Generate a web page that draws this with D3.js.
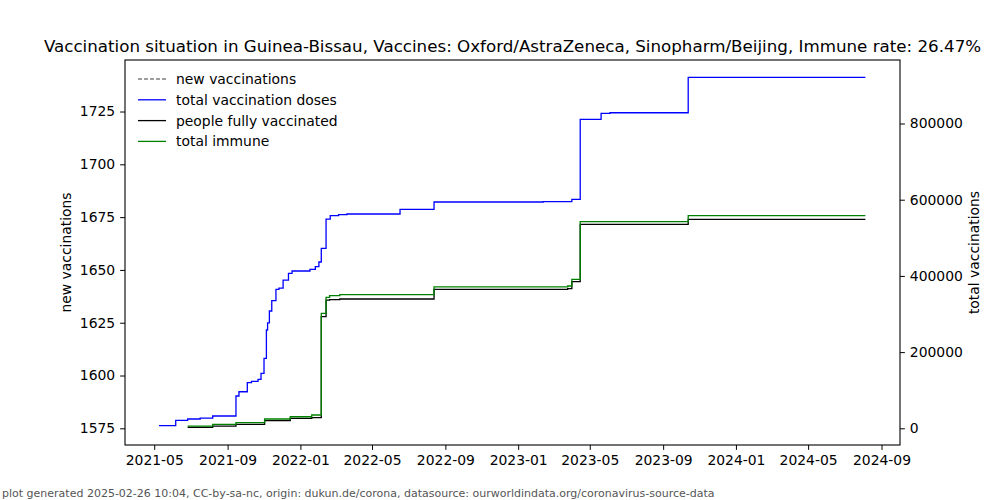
<!DOCTYPE html>
<html><head><meta charset="utf-8">
<script src="https://cdn.jsdelivr.net/npm/d3@7"></script>
<style>body{margin:0;background:#fff}svg{display:block;font-family:"DejaVu Sans",sans-serif}</style>
</head><body><svg id="c" width="1000" height="500"></svg>
<script>
// ---- data ----
const titleText = "Vaccination situation in Guinea-Bissau, Vaccines: Oxford/AstraZeneca, Sinopharm/Beijing, Immune rate: 26.47%";
const footerText = "plot generated 2025-02-26 10:04, CC-by-sa-nc, origin: dukun.de/corona, datasource: ourworldindata.org/coronavirus-source-data";
const seriesNames = ["new vaccinations", "total vaccination doses", "people fully vaccinated", "total immune"];
const xTickLabels = ["2021-05","2021-09","2022-01","2022-05","2022-09","2023-01","2023-05","2023-09","2024-01","2024-05","2024-09"];
const leftTicks = [1575,1600,1625,1650,1675,1700,1725];
const rightTicks = [0,200000,400000,600000,800000];
const xDomain = ["2021-03-13","2024-10-02"];
const leftDomain = [1567.1, 1749.4];
const rightDomain = [-43800, 966700];
const newVaccinations = []; // not visible in the reference
const totalDoses = [
 ["2021-05-09",6800],["2021-06-06",21000],["2021-06-26",24400],["2021-07-17",27000],["2021-08-07",32300],
 ["2021-09-15",84800],["2021-09-20",96000],["2021-10-04",119700],["2021-10-11",123400],["2021-10-22",128600],
 ["2021-10-27",144400],["2021-11-01",183700],["2021-11-05",258000],["2021-11-07",277000],["2021-11-10",307900],
 ["2021-11-14",335000],["2021-11-21",364800],["2021-11-26",368200],["2021-12-03",389200],["2021-12-12",406800],
 ["2021-12-18",412900],["2022-01-17",417300],["2022-01-26",424200],["2022-02-01",436500],["2022-02-05",472400],
 ["2022-02-13",549300],["2022-02-20",558000],["2022-03-06",560600],["2022-03-20",562500],["2022-06-17",574800],
 ["2022-08-13",594000],["2023-02-12",594800],["2023-04-01",601000],["2023-04-15",811000],["2023-05-20",826800],
 ["2023-06-04",828300],["2023-10-13",921300],["2024-08-05",921300]
];
const fullyVaccinated = [
 ["2021-06-26",2600],["2021-08-07",6000],["2021-09-15",10500],["2021-11-02",20000],["2021-12-15",26200],
 ["2022-01-20",27800],["2022-02-05",292900],["2022-02-13",336700],["2022-02-19",338000],["2022-03-08",339400],
 ["2022-08-13",364500],["2023-03-25",366400],["2023-04-01",384800],["2023-04-15",535400],["2023-10-13",548600],
 ["2024-08-05",548600]
];
const totalImmune = [
 ["2021-06-26",6000],["2021-08-07",10500],["2021-09-15",14700],["2021-11-02",24400],["2021-12-15",30400],
 ["2022-01-20",34900],["2022-02-05",301800],["2022-02-13",343800],["2022-02-19",348000],["2022-03-08",350700],
 ["2022-08-13",371000],["2023-03-25",373500],["2023-04-01",391000],["2023-04-15",542300],["2023-10-13",558000],
 ["2024-08-05",558000]
];
const colors = ["#808080","#0000ff","#000000","#008000"];

// ---- layout ----
const svg = d3.select("#c");
const L = 125, R = 900, T = 60, B = 445;
const parse = d3.utcParse("%Y-%m-%d");
const x = d3.scaleUtc().domain(xDomain.map(parse)).range([L, R]);
const yL = d3.scaleLinear().domain(leftDomain).range([B, T]);
const yR = d3.scaleLinear().domain(rightDomain).range([B, T]);

const fs = "13.9px";
// title
svg.append("text").attr("x", (L+R)/2).attr("y", 52).attr("text-anchor","middle")
  .style("font-size","16.7px").text(titleText);

// lines
const line = d3.line().x(d => x(parse(d[0]))).y(d => yR(d[1])).curve(d3.curveStepAfter);
const lineL = d3.line().x(d => x(parse(d[0]))).y(d => yL(d[1]));
const g = svg.append("g");
g.append("path").datum(newVaccinations).attr("d", d => d.length ? lineL(d) : null)
  .attr("fill","none").attr("stroke",colors[0]).attr("stroke-dasharray","4,2");
[[totalDoses,1],[fullyVaccinated,2],[totalImmune,3]].forEach(([d,i]) => {
  g.append("path").datum(d).attr("d", line).attr("fill","none").attr("stroke",colors[i]).attr("stroke-width",1.3);
});

// axes
const xTicks = xTickLabels.map(s => parse(s + "-01"));
const ax = svg.append("g").attr("transform",`translate(0,${B})`)
  .call(d3.axisBottom(x).tickValues(xTicks).tickFormat(d3.utcFormat("%Y-%m")).tickSizeOuter(0).tickSize(4.9).tickPadding(4.9));
const al = svg.append("g").attr("transform",`translate(${L},0)`)
  .call(d3.axisLeft(yL).tickValues(leftTicks).tickFormat(d3.format("d")).tickSizeOuter(0).tickSize(4.9).tickPadding(4.9));
const ar = svg.append("g").attr("transform",`translate(${R},0)`)
  .call(d3.axisRight(yR).tickValues(rightTicks).tickFormat(d3.format("d")).tickSizeOuter(0).tickSize(4.9).tickPadding(4.9));
[ax,al,ar].forEach(a => {
  a.selectAll("text").style("font-size",fs).style("font-family","DejaVu Sans").attr("fill","#000");
  a.selectAll("line").attr("stroke","#000").attr("stroke-width",1);
  a.select(".domain").remove();
});
// frame
svg.append("rect").attr("x",L).attr("y",T).attr("width",R-L).attr("height",B-T)
  .attr("fill","none").attr("stroke","#000").attr("stroke-width",1.1);

// axis labels
svg.append("text").attr("transform",`translate(71,${(T+B)/2}) rotate(-90)`).attr("text-anchor","middle")
  .style("font-size",fs).text("new vaccinations");
svg.append("text").attr("transform",`translate(979,${(T+B)/2}) rotate(-90)`).attr("text-anchor","middle")
  .style("font-size",fs).text("total vaccinations");

// legend
const lg = svg.append("g");
seriesNames.forEach((n,i) => {
  const yy = 79 + i*20.8;
  lg.append("line").attr("x1",138).attr("x2",166).attr("y1",yy).attr("y2",yy)
    .attr("stroke",colors[i]).attr("stroke-width",1.3).attr("stroke-dasharray", i===0 ? "4,2" : null);
  lg.append("text").attr("x",176).attr("y",yy+5).style("font-size",fs).text(n);
});

// footer
svg.append("text").attr("x",2).attr("y",497).style("font-size","11px").attr("fill","#555").text(footerText);
</script></body></html>
